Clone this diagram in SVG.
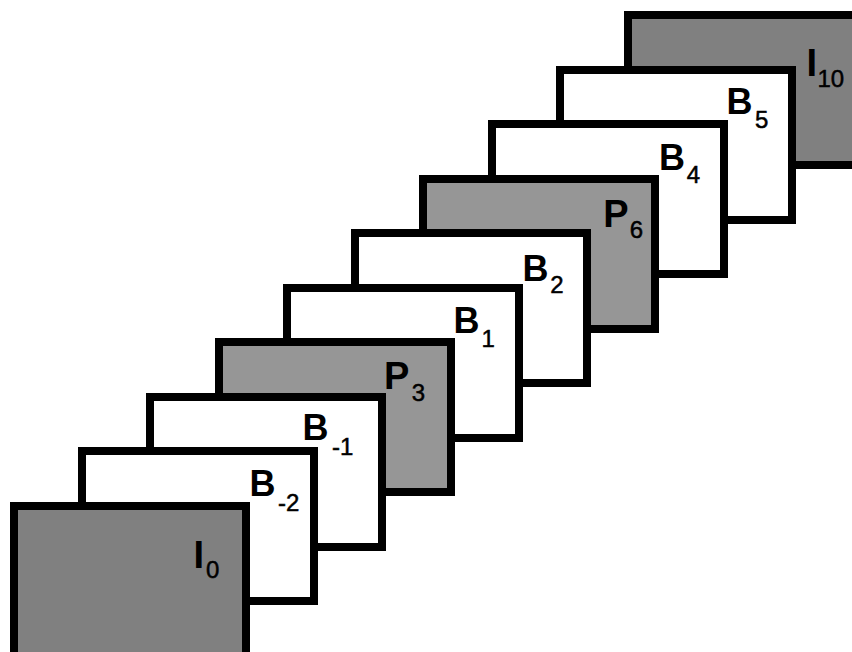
<svg xmlns="http://www.w3.org/2000/svg" width="852" height="652" viewBox="0 0 852 652">
<style>
.f{stroke:#000;stroke-width:8;}
.i{fill:#808080;}
.p{fill:#969696;}
.b{fill:#ffffff;}
.t{font-family:"Liberation Sans",Arial,sans-serif;font-weight:bold;fill:#000;}
.tb{font-size:36px;}
.tip{font-size:38px;}
.s{font-size:24px;font-weight:normal;stroke:#000;stroke-width:0.5px;}
</style>
<rect width="852" height="652" fill="#ffffff"/>
<g id="I10"><rect class="f i" x="628" y="15" width="232" height="150"/><text class="t tip" x="806.6" y="76">I<tspan class="s" x="817.4" y="87">10</tspan></text></g>
<g id="B5"><rect class="f b" x="560" y="70" width="232" height="150"/><text class="t tb" x="726.4" y="114">B<tspan class="s" x="755" y="128">5</tspan></text></g>
<g id="B4"><rect class="f b" x="492" y="124" width="232" height="150"/><text class="t tb" x="659" y="170">B<tspan class="s" x="686.7" y="183">4</tspan></text></g>
<g id="P6"><rect class="f p" x="423" y="179" width="232" height="150"/><text class="t tip" x="603.2" y="227">P<tspan class="s" x="629.8" y="238">6</tspan></text></g>
<g id="B2"><rect class="f b" x="355" y="233" width="232" height="150"/><text class="t tb" x="522.4" y="281">B<tspan class="s" x="550.3" y="293">2</tspan></text></g>
<g id="B1"><rect class="f b" x="287" y="288" width="232" height="150"/><text class="t tb" x="453.4" y="333">B<tspan class="s" x="481.4" y="347">1</tspan></text></g>
<g id="P3"><rect class="f p" x="219" y="342" width="232" height="150"/><text class="t tip" x="384" y="389">P<tspan class="s" x="411.7" y="401">3</tspan></text></g>
<g id="B-1"><rect class="f b" x="150" y="397" width="232" height="150"/><text class="t tb" x="302.4" y="440">B<tspan class="s" x="332" y="455">-1</tspan></text></g>
<g id="B-2"><rect class="f b" x="82" y="451" width="232" height="150"/><text class="t tb" x="249.4" y="496">B<tspan class="s" x="278" y="511">-2</tspan></text></g>
<g id="I0"><rect class="f i" x="14" y="506" width="232" height="150"/><text class="t tip" x="193.6" y="568">I<tspan class="s" x="206" y="578">0</tspan></text></g>
<g id="connectors"></g>
</svg>
